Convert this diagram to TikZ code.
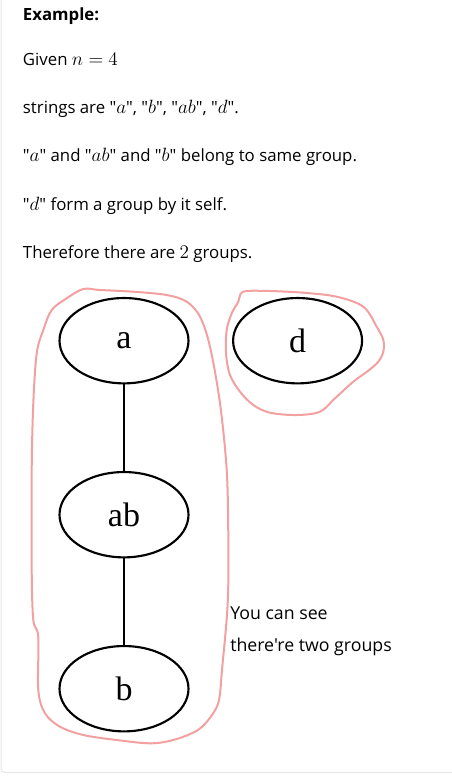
\documentclass[tikz,border=0pt]{standalone}
\usepackage{fontspec}
\usepackage{tikz}
\usetikzlibrary{shapes,arrows}
\newfontfamily\uifont{Open Sans}
\newfontfamily\vertexfont{Liberation Serif}
\newcommand\mth[1]{{\fontsize{15.4}{18}\selectfont$#1$}}
\definecolor{penred}{RGB}{242,160,160}
\definecolor{cardgray}{RGB}{230,230,230}
\tikzstyle{vertex} = [ellipse, draw, line width=1.6pt, minimum width=96.75pt,
    minimum height=64pt, inner sep=0pt, font=\vertexfont\fontsize{25.5}{30}\selectfont]
\tikzstyle{line} = [draw, line width=1.6pt]
\tikzstyle{txt} = [anchor=base west, inner sep=0pt, font=\uifont\fontsize{12.6}{15}\selectfont]
\tikzstyle{loop} = [draw=penred, line width=1.5pt, line join=round]

\begin{document}
\begin{tikzpicture}[x=0.75pt, y=-0.75pt, node distance=130.5pt]
\useasboundingbox (0,0) rectangle (452,783);
\draw [cardgray, line width=0.75pt, rounded corners=3pt] (1,0) -- (1,772.5) -- (452,772.5);

% text above the graph
\node [txt, font=\uifont\bfseries\fontsize{12.6}{15}\selectfont] (title) at (22.7,20) {Example:};
\node [txt] (given) at (22.7,65.7) {Given \mth{n = 4}};
\node [txt] (strs) at (22.7,113.3) {strings are "\mth{a}", "\mth{b}", "\mth{ab}", "\mth{d}".};
\node [txt] (same) at (22.7,161.7) {"\mth{a}" and "\mth{ab}" and "\mth{b}" belong to same group.};
\node [txt] (self) at (22.7,210) {"\mth{d}" form a group by it self.};
\node [txt] (res) at (22.7,258.3) {Therefore there are \mth{2} groups.};

% graph
\node [vertex] (a) at (124,340.7) {a};
\node [vertex, below of=a] (ab) {ab};
\node [vertex, below of=ab] (b) {b};
\node [vertex, right of=a, node distance=130.2pt] (d) {d};

\path [line] (a) -- (ab);
\path [line] (ab) -- (b);

% hand drawn groups
\draw [loop] plot [smooth cycle, tension=0.55] coordinates {
    (51.7,310) (66.7,298.3) (83.3,289) (100,290) (133.3,291.7) (166.7,295)
    (186.7,301.7) (200,316.7) (210,346.7) (220,403.3) (226.7,470) (228.3,536.7)
    (227.7,603.3) (222,670) (219,700) (212,715) (198,730) (173.3,740) (150,743.3)
    (116.7,740) (83.3,735) (60,726.7) (45,713.3) (38.3,690) (38.3,636.7)
    (33.3,620) (31.7,570) (31.7,470) (33.3,403.3) (36.7,353.3) (43.3,330)};
\draw [loop] plot [smooth cycle, tension=0.55] coordinates {
    (246.7,291) (270,291) (303.3,292.7) (336.7,296.7) (363.3,306.7)
    (376.7,326.7) (383.3,340) (383.3,351.7) (378.3,361.7) (368.3,370.7)
    (353.3,381.7) (335,398.3) (320,411.7) (296.7,415) (270,412.7) (253.3,405)
    (240,391.7) (230,375) (226,353.3) (226.7,330) (231.7,313.3) (238.3,301.7)
    (240.5,294)};

% note
\node [txt, font=\uifont\fontsize{13.3}{16}\selectfont] (see) at (230,619) {You can see};
\node [txt, font=\uifont\fontsize{13.3}{16}\selectfont] (two) at (230,651.7) {there're two groups};
\end{tikzpicture}
\end{document}
